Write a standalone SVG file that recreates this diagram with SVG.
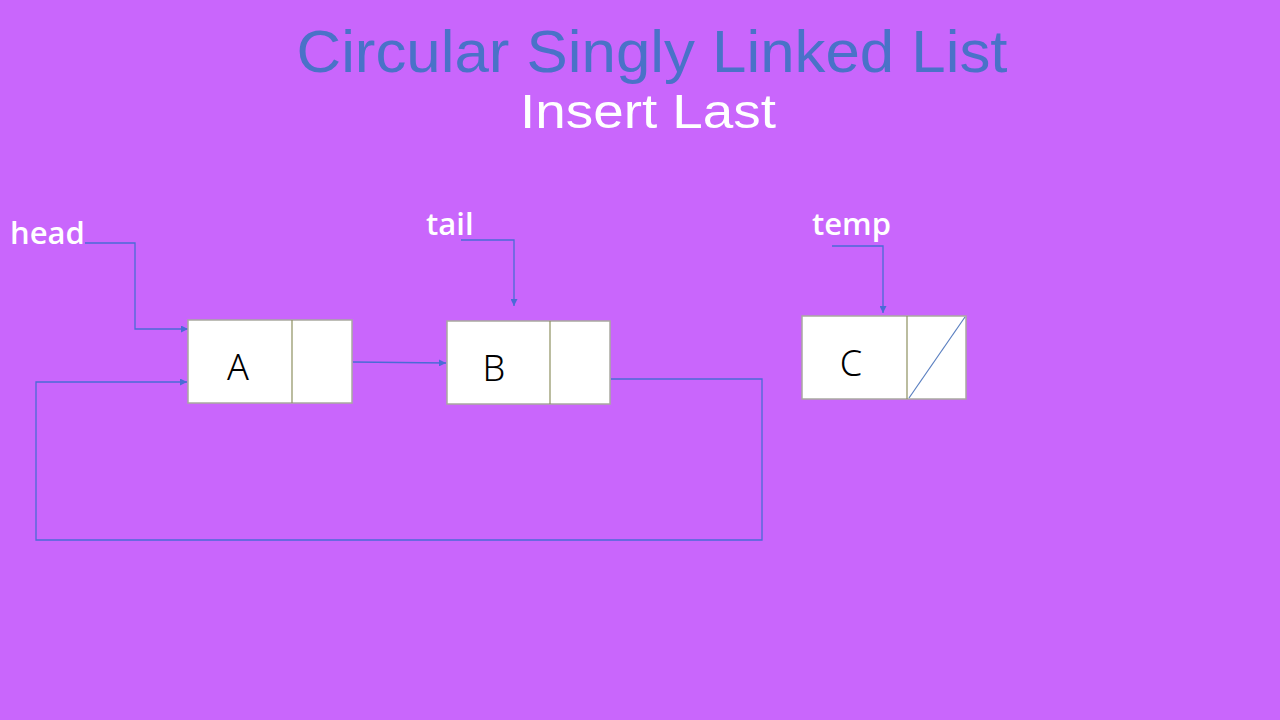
<svg xmlns="http://www.w3.org/2000/svg" width="1280" height="720" viewBox="0 0 1280 720">
<defs>
<marker id="arr" viewBox="0 0 10 10" refX="10" refY="5" markerWidth="7" markerHeight="7" markerUnits="userSpaceOnUse" orient="auto"><path d="M0,0 L10,5 L0,10 z" fill="#4A6BD6"/></marker>
</defs>
<style>
.title{font-family:"Comic Sans MS","Liberation Sans",sans-serif;font-size:60px;fill:#4A72C8;}
.sub{font-family:"Comic Sans MS","Liberation Sans",sans-serif;font-size:48px;fill:#ffffff;}
.lbl{font-family:"Open Sans","Liberation Sans",sans-serif;font-size:31px;fill:#ffffff;font-weight:600;}
.val{font-family:"Noto Sans","Liberation Sans",sans-serif;font-size:36px;fill:#000000;font-weight:300;}
.box{fill:#ffffff;stroke:#A9A9A0;stroke-width:1.5;}
.div{stroke:#8E9060;stroke-width:1.2;}
.conn{fill:none;stroke:#4A6BD6;stroke-width:1.3;}
</style>
<rect x="0" y="0" width="1280" height="720" fill="#C966FC"/>
<g id="title">
<text class="title" x="652" y="72" text-anchor="middle" textLength="711" lengthAdjust="spacingAndGlyphs">Circular Singly Linked List</text>
<text class="sub" x="648" y="128" text-anchor="middle" textLength="256" lengthAdjust="spacingAndGlyphs">Insert Last</text>
</g>
<g id="connectors">
<polyline class="conn" points="85,243 135,243 135,329 188,329" marker-end="url(#arr)"/>
<polyline class="conn" points="461,240 514,240 514,306" marker-end="url(#arr)"/>
<polyline class="conn" points="832,246 883,246 883,313" marker-end="url(#arr)"/>
<line class="conn" x1="353" y1="362" x2="446" y2="363" marker-end="url(#arr)"/>
<polyline class="conn" points="611,379 762,379 762,540 36,540 36,382 187,382" marker-end="url(#arr)"/>
</g>
<g id="head"><text class="lbl" x="10" y="244">head</text></g>
<g id="tail"><text class="lbl" x="426" y="235">tail</text></g>
<g id="temp"><text class="lbl" x="812" y="235">temp</text></g>
<g id="nodeA">
<rect class="box" x="188" y="320" width="164" height="83"/>
<line class="div" x1="292" y1="320" x2="292" y2="403"/>
<text class="val" x="238" y="380" text-anchor="middle">A</text>
</g>
<g id="nodeB">
<rect class="box" x="447" y="321" width="163" height="83"/>
<line class="div" x1="550" y1="321" x2="550" y2="404"/>
<text class="val" x="494" y="381" text-anchor="middle">B</text>
</g>
<g id="nodeC">
<rect class="box" x="802" y="316" width="164" height="83"/>
<line class="div" x1="907" y1="316" x2="907" y2="399"/>
<line x1="909" y1="398" x2="965" y2="317" stroke="#5A7FC0" stroke-width="1.2"/>
<text class="val" x="851" y="376" text-anchor="middle">C</text>
</g>
</svg>
